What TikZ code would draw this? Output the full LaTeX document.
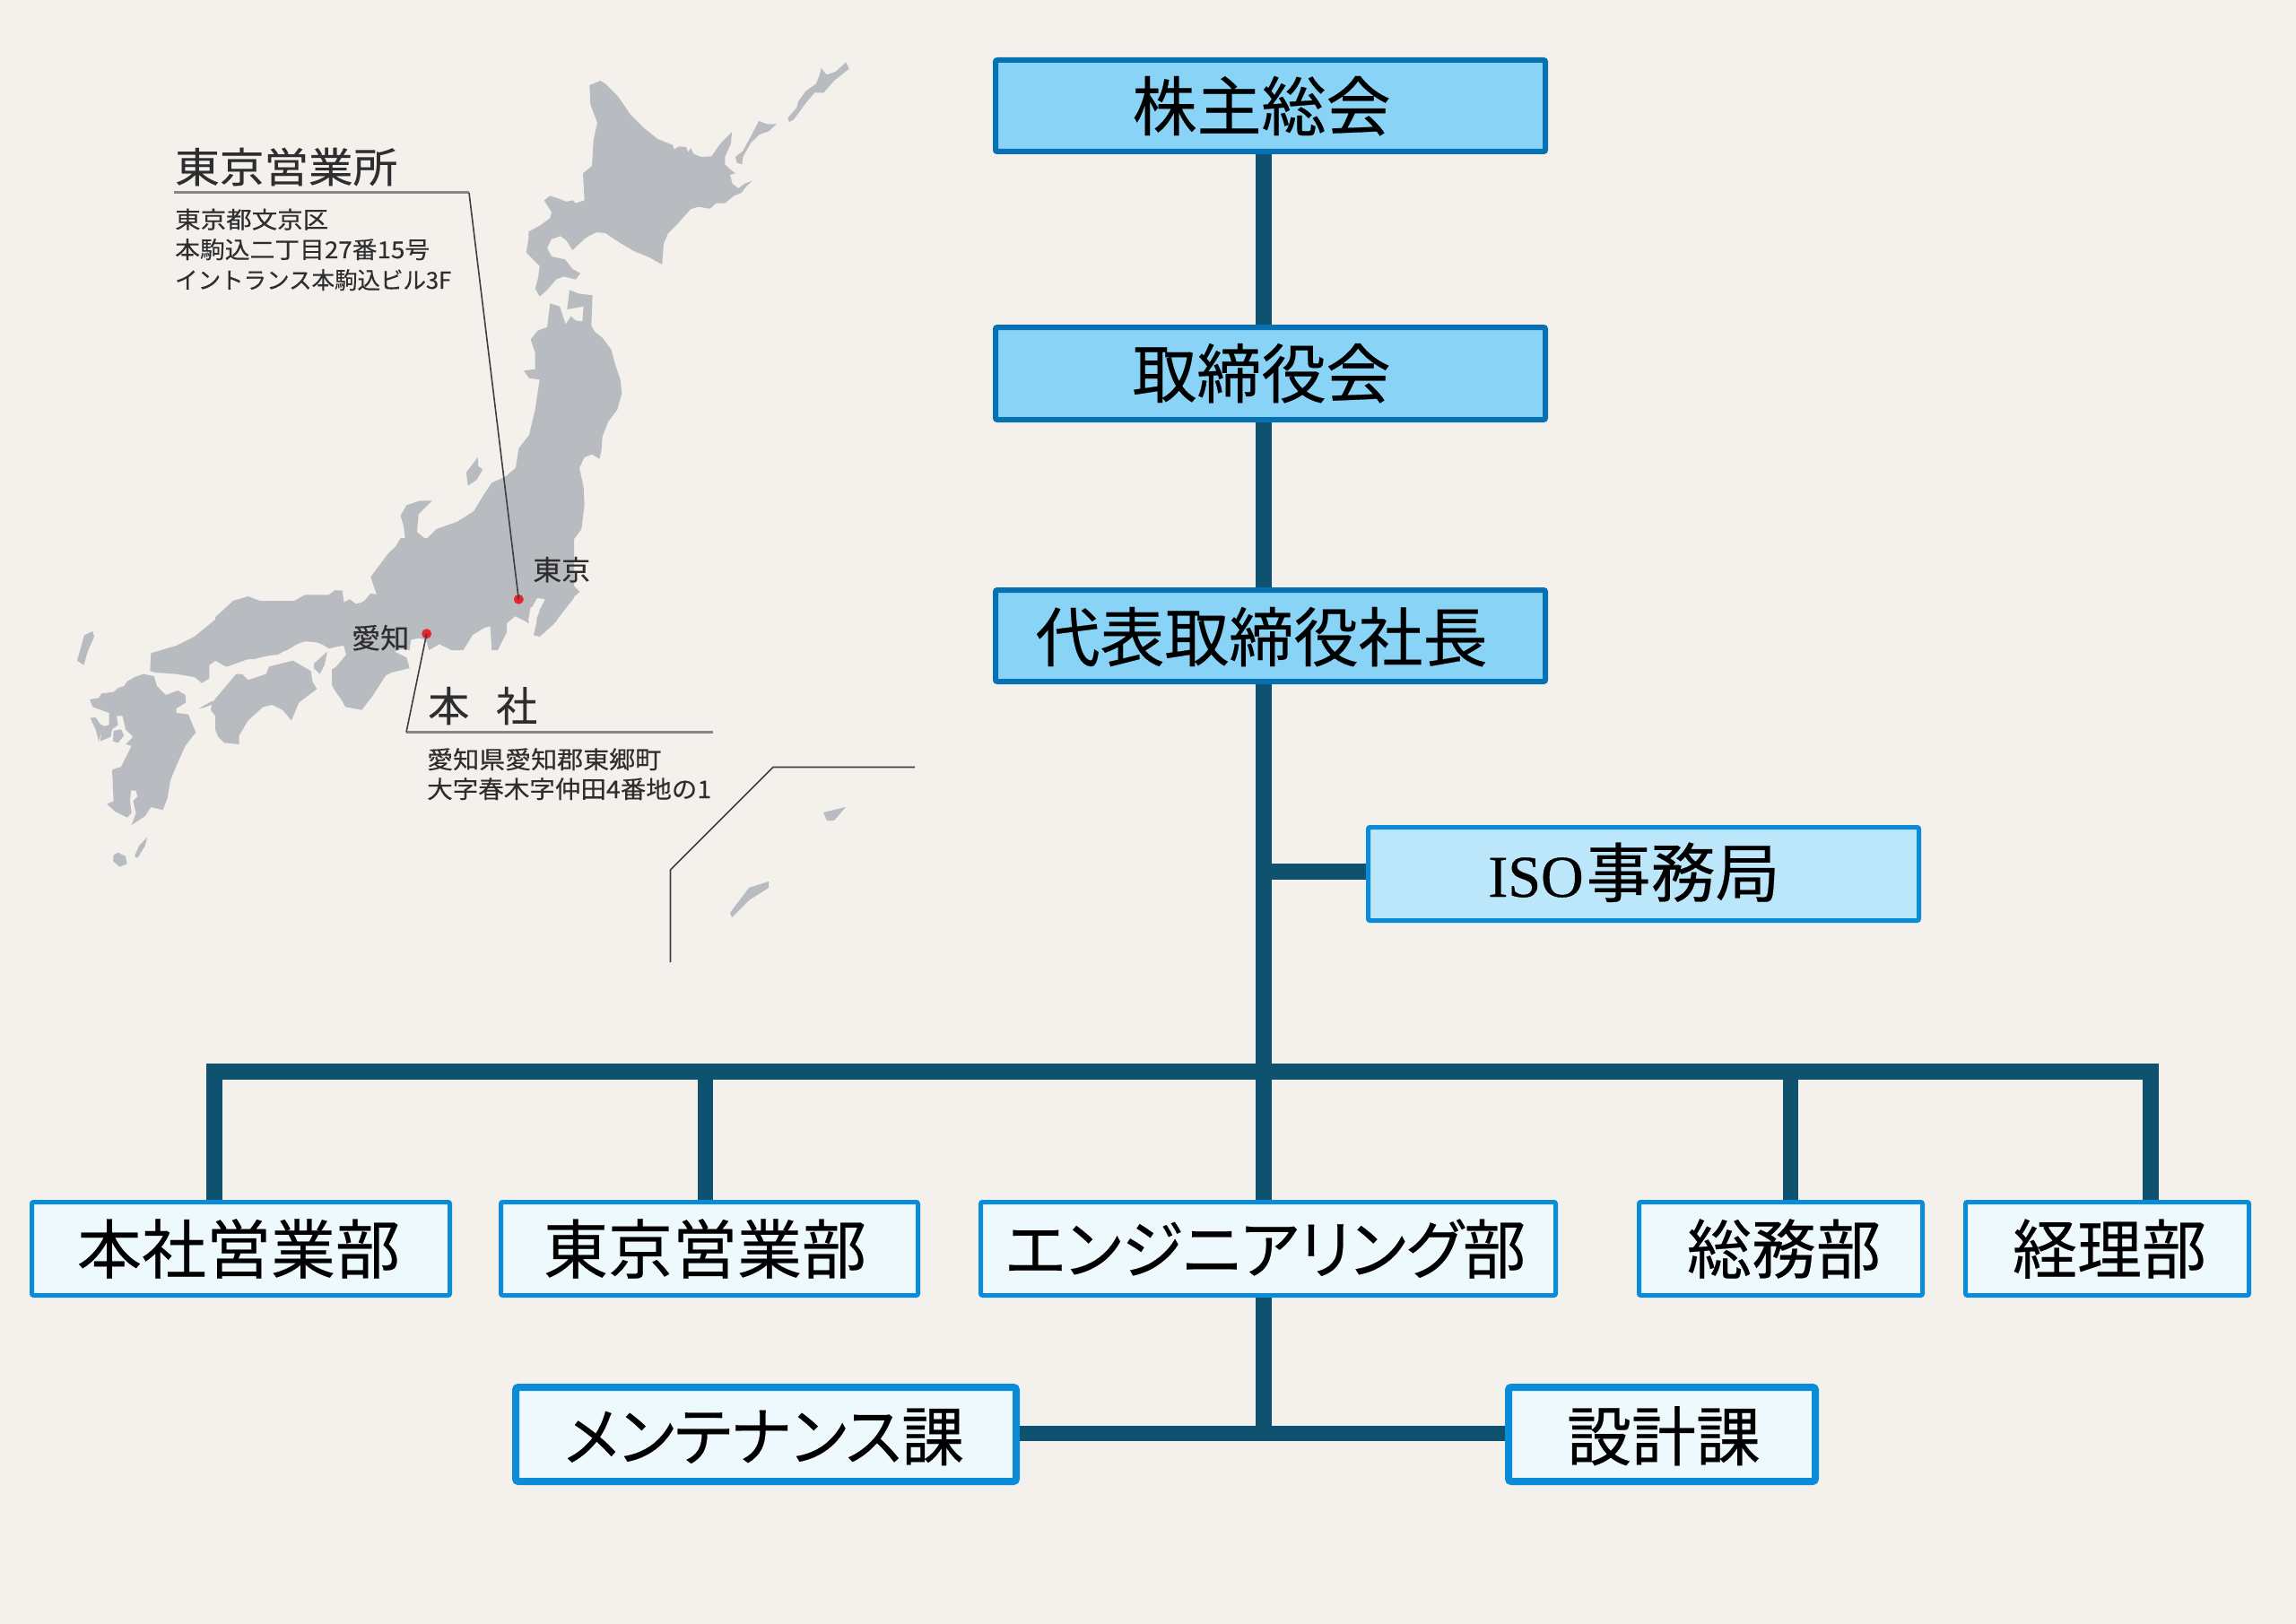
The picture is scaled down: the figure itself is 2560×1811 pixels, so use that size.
\documentclass[tikz,border=0pt]{standalone}
\usepackage{graphicx}
\usepackage{fontspec}
\setmainfont[FakeBold=0.35]{Noto Sans CJK JP}
\newfontfamily\jpp[RawFeature=+palt,FakeBold=0.35]{Noto Sans CJK JP}
\newfontfamily\latinserif[FakeBold=0.6]{Liberation Serif}
\definecolor{bgc}{HTML}{F4F1EC}
\definecolor{landc}{HTML}{B8BCC0}
\definecolor{conc}{HTML}{0E5270}
\definecolor{topfill}{HTML}{89D4F6}
\definecolor{topline}{HTML}{0672B3}
\definecolor{isofill}{HTML}{BCE6FA}
\definecolor{lightfill}{HTML}{EEF9FE}
\definecolor{midline}{HTML}{0A8CD9}
\definecolor{inkc}{HTML}{2E2E30}
\definecolor{leadc}{HTML}{3C3F44}
\definecolor{ruled}{HTML}{85878A}
\definecolor{dotc}{HTML}{E8232E}
\newcommand\bigjp{\fontsize{72}{72}\selectfont}
\newcommand\boxtext[3]{\makebox[0pt]{\kern#1pt\kern#1pt\smash{\raisebox{#2pt}{\color{black}\bigjp #3}}}}
\newcommand\isle[1]{\fill[mapland] plot[sharp plot] coordinates {#1} -- cycle;}
\newcommand\txt[3]{\fontsize{#1}{#1}\selectfont\resizebox{#2pt}{\height}{#3}}
\tikzset{
  mapland/.style={landc,draw=none},
  topbox/.style={draw=topline,fill=topfill,line width=6pt,rounded corners=2pt,inner sep=0pt},
  isobox/.style={draw=midline,fill=isofill,line width=5pt,rounded corners=2pt,inner sep=0pt},
  deptbox/.style={draw=midline,fill=lightfill,line width=5pt,rounded corners=2pt,minimum height=104pt,inner sep=0pt},
  secbox/.style={draw=midline,fill=lightfill,line width=8pt,rounded corners=3pt,minimum height=105pt,inner sep=0pt},
  conn/.style={draw=conc,line width=18pt,line join=miter,line cap=butt},
  thinconn/.style={draw=conc,line width=17pt,line join=miter,line cap=butt},
  leader/.style={draw=leadc,line width=1.6pt},
  rule/.style={draw=ruled,line width=3pt},
  maplabel/.style={anchor=base west,inner sep=0pt,text=inkc},
  citydot/.style={circle,fill=dotc,draw=none,inner sep=0pt,minimum size=11pt},
}
\begin{document}
\begin{tikzpicture}[x=1pt,y=-1pt]
\useasboundingbox (0,0) rectangle (2560,1811);
\fill[bgc] (0,0) rectangle (2560,1811);

% ---------- map ----------
\begin{scope}[shift={(560,60)},x=0.33333pt,y=-0.33333pt]
\isle{(292,105)(328,90)(345,100)(385,140)(430,205)(470,245)(520,285)(570,305)(575,320)(590,310)(615,312)(622,330)(630,315)(640,335)(665,345)(700,343)(730,300)(768,262)(765,300)(745,345)(745,370)(760,385)(780,400)(762,405)(770,435)(790,450)(810,435)(835,425)(815,445)(800,465)(775,475)(745,500)(715,500)(695,518)(655,512)(630,520)(590,565)(555,600)(540,635)(535,705)(490,680)(440,660)(390,630)(345,600)(315,597)(280,615)(235,657)(215,625)(195,610)(165,620)(150,650)(165,678)(210,688)(235,720)(262,735)(245,755)(205,745)(180,755)(150,790)(125,812)(110,785)(120,750)(125,710)(100,685)(80,665)(88,620)(88,595)(125,575)(160,550)(165,530)(140,490)(160,475)(190,485)(215,495)(235,490)(245,500)(275,490)(270,400)(300,375)(305,290)(318,230)(295,170)}
\isle{(858,225)(885,235)(918,235)(890,260)(860,270)(830,300)(805,345)(802,370)(785,365)(780,345)(805,325)(835,270)}
\isle{(1067,48)(1085,70)(1115,60)(1150,28)(1160,50)(1110,90)(1075,130)(1045,130)(1015,165)(975,220)(960,228)(955,215)(985,180)(990,160)(1015,125)(1050,100)(1060,75)}
\end{scope}
\begin{scope}[shift={(400,300)},x=0.33333pt,y=-0.33333pt]
\isle{(640,115)(672,125)(692,185)(710,158)(725,172)(748,175)(752,125)(697,135)(705,70)(735,82)(782,88)(778,190)(790,210)(815,230)(845,270)(855,310)(875,370)(880,415)(865,470)(835,510)(815,560)(812,605)(805,635)(780,620)(755,630)(738,665)(752,730)(755,790)(745,870)(715,910)(700,960)(700,1040)(740,1080)(690,1120)(660,1180)(620,1200)(595,1200)(595,1170)(625,1100)(600,1095)(580,1130)(560,1140)(570,1185)(520,1160)(490,1180)(0,1180)(0,1120)(60,1090)(40,1030)(100,950)(155,900)(150,860)(140,825)(160,790)(205,775)(245,775)(200,820)(195,880)(225,905)(260,870)(330,845)(385,810)(415,760)(445,715)(490,695)(525,665)(535,600)(570,555)(590,470)(605,370)(570,365)(552,340)(590,335)(590,280)(575,235)(600,205)(630,195)}
\isle{(398,630)(400,660)(415,670)(395,705)(365,725)(360,680)}
\end{scope}
\begin{scope}[shift={(240,600)},x=0.33333pt,y=-0.33333pt]
\isle{(620,0)(590,50)(525,130)(530,160)(548,190)(520,185)(495,215)(470,220)(450,205)(430,215)(425,175)(400,175)(380,190)(300,190)(265,210)(150,210)(110,195)(60,210)(0,265)(0,410)(35,430)(80,405)(130,405)(190,390)(240,375)(290,345)(330,345)(380,365)(430,360)(438,390)(405,430)(390,440)(390,490)(400,510)(425,545)(435,565)(490,575)(525,530)(570,460)(590,450)(650,435)(640,400)(600,380)(620,372)(650,375)(655,340)(680,335)(705,340)(715,375)(750,355)(790,375)(830,375)(860,325)(900,300)(920,295)(925,375)(945,375)(975,315)(975,285)(1005,260)(1030,260)(1045,285)(1055,230)(1075,200)(1105,205)(1085,240)(1065,325)(1085,330)(1130,290)(1200,200)(1200,0)}
\end{scope}
\begin{scope}[shift={(70,680)},x=0.33333pt,y=-0.33333pt]
\isle{(292,205)(295,145)(380,120)(440,90)(550,0)(960,0)(960,110)(940,118)(890,130)(860,110)(810,105)(770,120)(720,150)(670,155)(620,165)(550,190)(540,175)(515,168)(490,185)(490,230)(465,245)(440,225)(380,215)(310,210)}
\isle{(500,310)(580,215)(600,215)(620,235)(680,215)(690,190)(770,170)(830,205)(835,240)(850,265)(790,310)(765,370)(735,335)(700,318)(670,325)(620,370)(590,420)(590,450)(540,445)(520,425)(510,400)(510,355)(495,335)}
\isle{(455,330)(500,305)(505,315)(470,328)}
\isle{(885,140)(875,185)(860,215)(840,195)(840,180)}
\isle{(240,225)(270,215)(305,222)(315,255)(345,285)(385,270)(410,285)(412,310)(380,330)(380,345)(420,350)(430,375)(445,410)(410,455)(385,510)(360,570)(350,630)(335,670)(295,660)(275,690)(230,720)(245,680)(235,640)(250,625)(245,605)(228,605)(225,640)(230,680)(215,695)(175,675)(148,650)(170,640)(165,535)(195,525)(230,455)(210,450)(235,425)(210,400)(200,355)(180,355)(185,385)(165,400)(160,425)(125,440)(130,410)(135,395)(155,385)(155,345)(100,325)(90,300)(120,295)(130,280)(170,275)(185,262)(205,255)(215,240)}
\isle{(92,362)(110,360)(125,382)(140,390)(155,385)(130,410)(120,440)(110,400)}
\isle{(170,405)(195,400)(205,420)(185,445)(168,440)}
\isle{(100,72)(105,90)(85,135)(70,185)(48,170)(65,110)(72,85)}
\isle{(283,760)(275,790)(250,830)(240,825)(255,790)}
\isle{(185,812)(210,825)(215,850)(190,860)(168,840)(170,820)}
\end{scope}
\isle{(943,900)(930,915)(922,915)(918,906)}
\isle{(857,983)(857,990)(835,1004)(816,1023)(814,1018)(835,990)}

% ---------- map leaders ----------
\node[citydot] (tokyodot) at (578.3,668.3) {};
\node[citydot] (aichidot) at (475.7,706.7) {};
\coordinate (tokL) at (194,215);
\coordinate (tokR) at (523,215);
\coordinate (honL) at (453,816.5);
\coordinate (honR) at (795,816.5);
\coordinate (okA) at (1020,855.5);
\coordinate (okB) at (862,855.5);
\coordinate (okC) at (747.5,970);
\coordinate (okD) at (747.5,1073);
\draw[rule] (tokL) -- (tokR);
\draw[leader] (tokR) -- (tokyodot.center);
\draw[rule] (honL) -- (honR);
\draw[leader] (honL) -- (aichidot.center);
\draw[leader] (okA) -- (okB) -- (okC) -- (okD);

% ---------- map labels ----------
\node[maplabel] (tokhead) at (195,203.5) {\txt{46}{248}{東京営業所}};
\node[maplabel] (tokad1) at (195,254.5) {\txt{26}{171}{東京都文京区}};
\node[maplabel] (tokad2) at (195,288) {\txt{26}{284}{本駒込二丁目27番15号}};
\node[maplabel] (tokad3) at (195,322) {\txt{26}{308}{イントランス本駒込ビル3F}};
\node[maplabel] (tokyolab) at (594,647) {\txt{31}{64}{東京}};
\node[maplabel] (aichilab) at (392,723) {\txt{31}{64}{愛知}};
\node[maplabel] (honhead) at (477,804.5) {\fontsize{46}{46}\selectfont 本\hspace{30pt}社};
\node[maplabel] (honad1) at (476,857) {\txt{27}{261}{愛知県愛知郡東郷町}};
\node[maplabel] (honad2) at (476,890) {\txt{27}{317}{大字春木字仲田4番地の1}};

% ---------- organisation boxes ----------
\node[topbox,minimum width=613pt,minimum height=102pt] (soukai) at (1416.5,118) {\boxtext{-10}{-27.4}{株主総会}};
\node[topbox,minimum width=613pt,minimum height=103pt] (torishimari) at (1416.5,416.5) {\boxtext{-10}{-27}{取締役会}};
\node[topbox,minimum width=613pt,minimum height=102pt] (shacho) at (1416.5,709) {\boxtext{-10}{-28.4}{代表取締役社長}};
\node[isobox,minimum width=614pt,minimum height=104pt] (iso) at (1832.5,974.5) {\boxtext{-10.5}{-25.5}{{\latinserif\fontsize{66}{66}\selectfont ISO}\kern3pt 事務局}};
\node[deptbox,minimum width=466pt] (honsha) at (268.5,1392.5) {\boxtext{-2.5}{-27.4}{本社営業部}};
\node[deptbox,minimum width=465pt] (tokyo) at (791,1392.5) {\boxtext{-5}{-27.4}{東京営業部}};
\node[deptbox,minimum width=641pt] (eng) at (1414,1392.5) {\boxtext{-3}{-27.4}{\resizebox{580pt}{\height}{\jpp エンジニアリング部}}};
\node[deptbox,minimum width=316pt] (soumu) at (1985.5,1392.5) {\boxtext{3.5}{-27.4}{総務部}};
\node[deptbox,minimum width=316pt] (keiri) at (2349.5,1392.5) {\boxtext{2.5}{-27.4}{経理部}};
\node[secbox,minimum width=558pt] (maint) at (854,1599.5) {\boxtext{-2}{-29}{\resizebox{446pt}{\height}{\jpp メンテナンス課}}};
\node[secbox,minimum width=342pt] (sekkei) at (1853,1599.5) {\boxtext{2}{-29}{設計課}};

% ---------- connectors ----------
\coordinate (trunk) at (1408.5,0);
\coordinate (hub) at (1408.5,1194.5);
\coordinate (isoj) at (1408.5,972);
\coordinate (subj) at (1408.5,1598.5);
\coordinate (lefttop) at (238.5,1194.5);
\coordinate (righttop) at (2397.5,1194.5);
\coordinate (tokx) at (786.5,1194.5);
\coordinate (somx) at (1996,1194.5);
\draw[conn] (soukai.south -| trunk) -- (torishimari.north -| trunk);
\draw[conn] (torishimari.south -| trunk) -- (shacho.north -| trunk);
\draw[conn] (shacho.south -| trunk) -- (eng.north -| trunk);
\draw[conn] (isoj) -- (iso.west |- isoj);
\draw[conn] (honsha.north -| lefttop) -- (lefttop) -- (righttop) -- (keiri.north -| righttop);
\draw[thinconn] (tokx) -- (tokyo.north -| tokx);
\draw[thinconn] (somx) -- (soumu.north -| somx);
\draw[conn] (eng.south -| trunk) -- (subj);
\draw[thinconn] (maint.east |- subj) -- (sekkei.west |- subj);
\end{tikzpicture}
\end{document}
